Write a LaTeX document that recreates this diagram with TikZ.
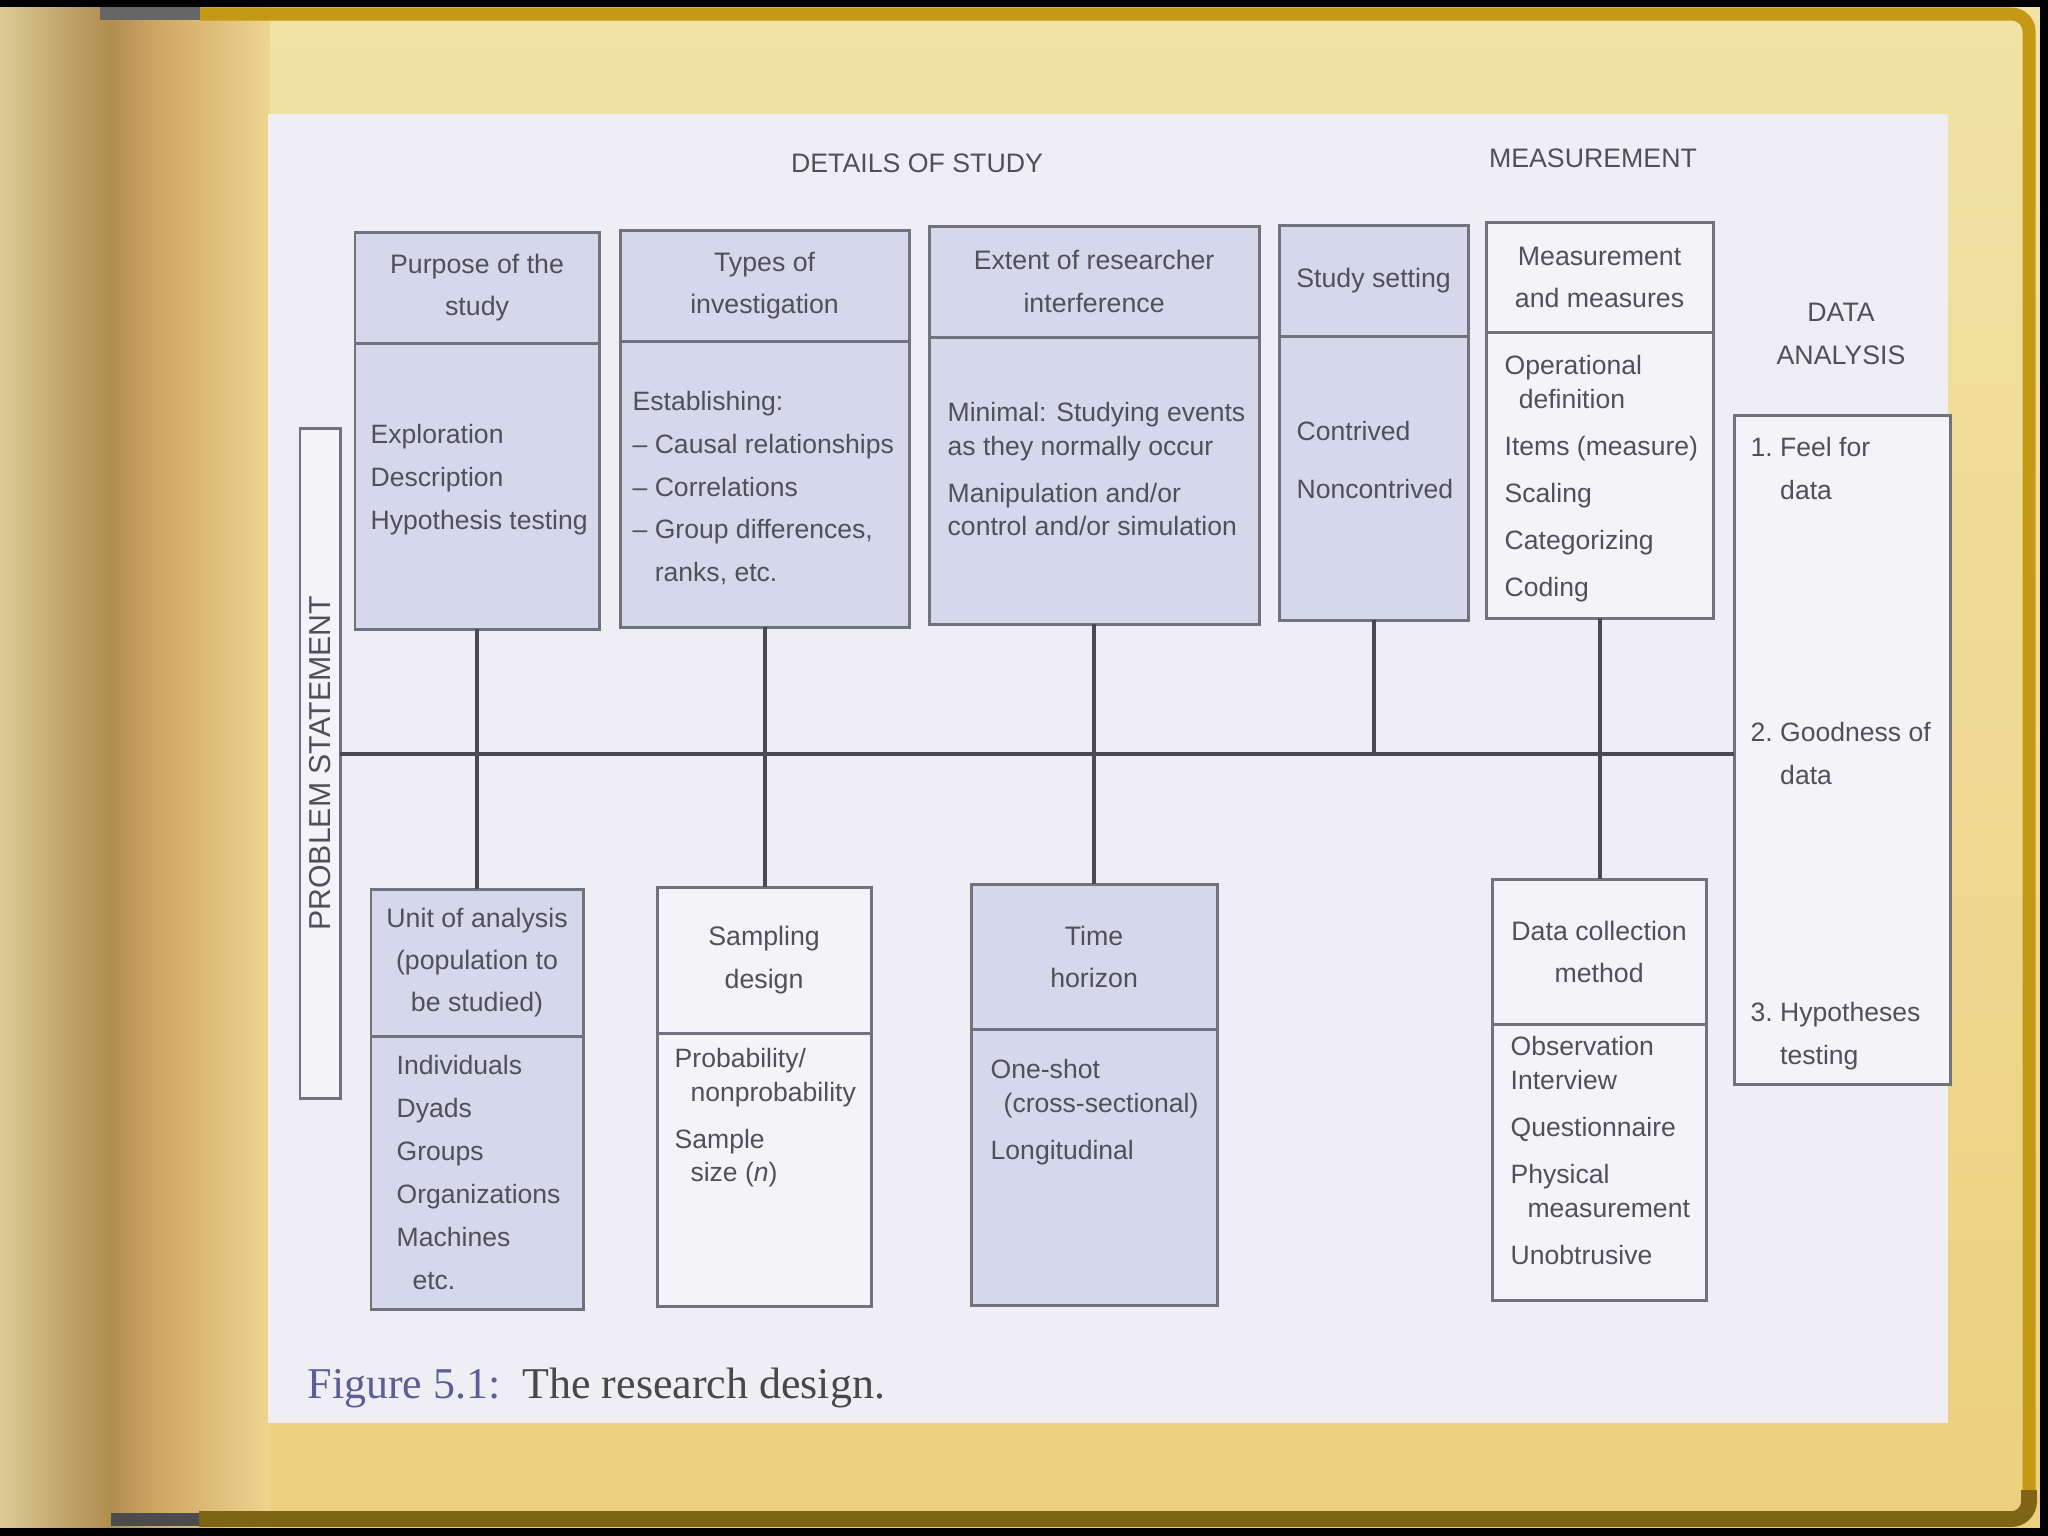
\documentclass[tikz,border=0pt]{standalone}
\usepackage{fontspec}
\setmainfont{Liberation Sans}
\newfontfamily\capfont{Liberation Serif}
\definecolor{txt}{HTML}{50505A}
\definecolor{bord}{HTML}{72727C}
\definecolor{cln}{HTML}{4A4A52}
\definecolor{lav}{HTML}{D5D7EB}
\definecolor{panel}{HTML}{EEEEF4}
\definecolor{wbox}{HTML}{F3F3F8}
\definecolor{capblue}{HTML}{5E5E96}
\definecolor{capgray}{HTML}{484848}
\definecolor{pagetop}{HTML}{F1E2A6}
\definecolor{pagebot}{HTML}{EDD07E}
\definecolor{gutA}{HTML}{DCCB96}
\definecolor{gutB}{HTML}{C2A76C}
\definecolor{gutC}{HTML}{B08E50}
\definecolor{gutD}{HTML}{D0A864}
\definecolor{gutE}{HTML}{EDD590}
\definecolor{goldband}{HTML}{C49A14}
\definecolor{goldlow}{HTML}{7E6414}
\newcommand\dghead{\fontsize{7.6}{12}\selectfont}
\newcommand\dgbody{\fontsize{7.55}{9.4}\selectfont}
\newcommand\dgps{\fontsize{8.6}{10}\selectfont}
\begin{document}
\begin{tikzpicture}[x=0.01cm,y=-0.01cm,
  hb/.style={draw=bord,line width=0.85pt,inner sep=0pt,outer sep=0pt,anchor=north west,align=center,text=txt,font=\dghead},
  lavf/.style={fill=lav},
  whf/.style={fill=wbox},
  bt/.style={anchor=north west,inner sep=0pt,align=left,text=txt,font=\dgbody},
  connline/.style={draw=cln,line width=1.1pt},
  ttl/.style={inner sep=0pt,text=txt,font=\dghead,align=center}
]
\useasboundingbox (0,0) rectangle (2048,1536);
% page background
\shade[top color=pagetop,bottom color=pagebot] (0,0) rectangle (2048,1536);
\shade[left color=gutA,right color=gutB] (0,0) rectangle (60,1536);
\shade[left color=gutB,right color=gutC] (60,0) rectangle (110,1536);
\shade[left color=gutC,right color=gutD] (110,0) rectangle (160,1536);
\shade[left color=gutD,right color=gutE] (160,0) rectangle (270,1536);
% frame
\fill[black] (0,0) rectangle (2048,7);
\fill[black] (2040,0) rectangle (2048,1536);
\fill[black] (0,1528) rectangle (2048,1536);
\fill[black!60] (100,7) rectangle (200,20);
\draw[goldband,line width=3.7pt,rounded corners=5pt] (200,14) -- (2029,14) -- (2029,1500);
\draw[goldlow,line width=4.5pt,rounded corners=5pt] (2029,1490) -- (2029,1519) -- (199,1519);
\fill[black!70] (199,1513) rectangle (111,1526);
% panel
\fill[panel] (268,114) rectangle (1948,1423);

% titles
\node[ttl] (tds) at (917,163) {DETAILS OF STUDY};
\node[ttl] (tms) at (1593,158) {MEASUREMENT};
\node[ttl] (tda) at (1841,334) {DATA\\ANALYSIS};

% top row boxes
\node[hb,lavf,minimum width=2.44cm,minimum height=1.11cm] (p1h) at (355,232) {Purpose of the\\study};
\node[hb,lavf,minimum width=2.44cm,minimum height=2.86cm] (p1b) at (355,343) {};
\node[hb,lavf,minimum width=2.89cm,minimum height=1.11cm] (p2h) at (620,230) {Types of\\investigation};
\node[hb,lavf,minimum width=2.89cm,minimum height=2.86cm] (p2b) at (620,341) {};
\node[hb,lavf,minimum width=3.30cm,minimum height=1.11cm] (p3h) at (929,226) {Extent of researcher\\interference};
\node[hb,lavf,minimum width=3.30cm,minimum height=2.87cm] (p3b) at (929,337) {};
\node[hb,lavf,minimum width=1.89cm,minimum height=1.11cm] (p4h) at (1279,225) {Study setting};
\node[hb,lavf,minimum width=1.89cm,minimum height=2.84cm] (p4b) at (1279,336) {};
\node[hb,whf,minimum width=2.27cm,minimum height=1.10cm] (p5h) at (1486,222) {Measurement\\and measures};
\node[hb,whf,minimum width=2.27cm,minimum height=2.86cm] (p5b) at (1486,332) {};

% bottom row boxes
\node[hb,lavf,minimum width=2.12cm,minimum height=1.47cm] (u1h) at (371,889) {Unit of analysis\\(population to\\be studied)};
\node[hb,lavf,minimum width=2.12cm,minimum height=2.73cm] (u1b) at (371,1036) {};
\node[hb,whf,minimum width=2.14cm,minimum height=1.46cm] (u2h) at (657,887) {Sampling\\design};
\node[hb,whf,minimum width=2.14cm,minimum height=2.73cm] (u2b) at (657,1033) {};
\node[hb,lavf,minimum width=2.46cm,minimum height=1.45cm] (u3h) at (971,884) {Time\\horizon};
\node[hb,lavf,minimum width=2.46cm,minimum height=2.76cm] (u3b) at (971,1029) {};
\node[hb,whf,minimum width=2.14cm,minimum height=1.45cm] (u4h) at (1492,879) {Data collection\\method};
\node[hb,whf,minimum width=2.14cm,minimum height=2.76cm] (u4b) at (1492,1024) {};

% side boxes
\node[hb,whf,minimum width=0.40cm,minimum height=6.70cm] (ps) at (300,428) {};
\node[ttl,rotate=90,font=\dgps] (pst) at (ps.center) {PROBLEM STATEMENT};
\node[hb,whf,minimum width=2.16cm,minimum height=6.69cm] (da) at (1734,415) {};

% body texts
\node[bt] (tp1) at (370,424) {Exploration\\[2.8pt]Description\\[2.8pt]Hypothesis testing};
\node[bt] (tp2) at (632,391) {Establishing:\\[2.7pt]\textendash\ Causal relationships\\[2.7pt]\textendash\ Correlations\\[2.7pt]\textendash\ Group differences,\\[2.7pt]\phantom{\textendash\ }ranks, etc.};
\node[bt] (tp3) at (947,402) {Minimal: Studying events\\as they normally occur\\[4pt]Manipulation and/or\\control and/or simulation};
\node[bt] (tp4) at (1296,421) {Contrived\\[7.1pt]Noncontrived};
\node[bt] (tp5) at (1504,355) {Operational\\\hspace*{4pt}definition\\[4pt]Items (measure)\\[4pt]Scaling\\[4pt]Categorizing\\[4pt]Coding};

\node[bt] (tu1) at (396,1055) {Individuals\\[2.8pt]Dyads\\[2.8pt]Groups\\[2.8pt]Organizations\\[2.8pt]Machines\\[2.8pt]\hspace*{4.5pt}etc.};
\node[bt] (tu2) at (674,1048) {Probability/\\\hspace*{4.5pt}nonprobability\\[4.2pt]Sample\\\hspace*{4.5pt}size (\textit{n})};
\node[bt] (tu3) at (990,1059) {One-shot\\\hspace*{3.7pt}(cross-sectional)\\[4pt]Longitudinal};
\node[bt] (tu4) at (1510,1036) {Observation\\Interview\\[4pt]Questionnaire\\[4.2pt]Physical\\\hspace*{4.8pt}measurement\\[4.2pt]Unobtrusive};

\node[bt] (d1) at (1750,437) {1.\ Feel for\\[2.8pt]\phantom{1.\ }data};
\node[bt] (d2) at (1750,722) {2.\ Goodness of\\[2.8pt]\phantom{2.\ }data};
\node[bt] (d3) at (1750,1002) {3.\ Hypotheses\\[2.8pt]\phantom{3.\ }testing};

% connectors
\coordinate (hl) at (0,754);
\draw[connline] (ps.east |- hl) -- (da.west |- hl);
\draw[connline] (p1b.south) -- (p1b.south |- u1h.north);
\draw[connline] (p2b.south) -- (p2b.south |- u2h.north);
\draw[connline] (p3b.south) -- (p3b.south |- u3h.north);
\draw[connline] (p4b.south) -- (p4b.south |- hl);
\draw[connline] (p5b.south) -- (p5b.south |- u4h.north);

% caption
\node[anchor=base west,inner sep=0pt,font=\capfont\fontsize{12.5}{15}\selectfont] (cap) at (307,1398) {\textcolor{capblue}{Figure 5.1:}\ \ \textcolor{capgray}{The research design.}};
\end{tikzpicture}
\end{document}
